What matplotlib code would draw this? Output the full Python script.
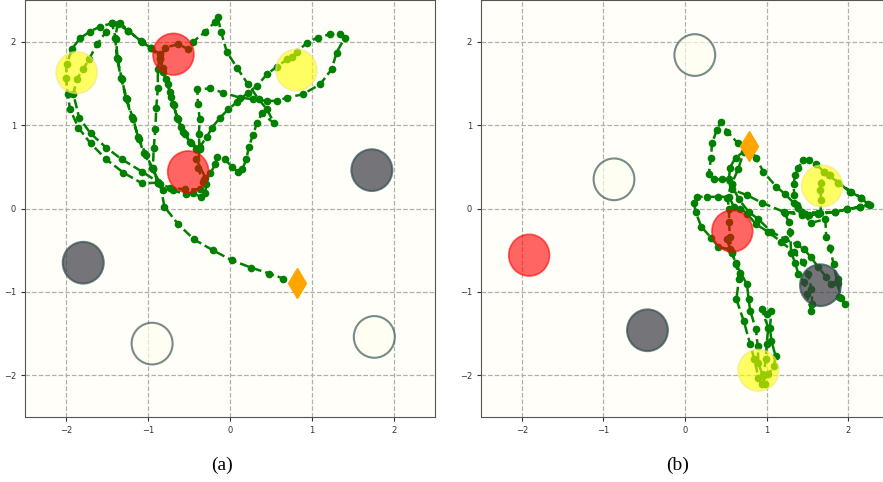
import matplotlib
matplotlib.use("Agg")
import matplotlib.pyplot as plt
from matplotlib.patches import Circle

# ---- panel (a) ----
obst_a = {
    "red": [(-0.69, 1.85), (-0.51, 0.44)],
    "yellow": [(-1.87, 1.63), (0.81, 1.66)],
    "gray": [(1.73, 0.46), (-1.79, -0.65)],
    "white": [(-0.95, -1.62), (1.76, -1.54)],
}
goal_a = (0.82, -0.89)

traj_ax = [-0.30, -0.41, -0.41, -0.48, -0.55, -0.60, -0.65, -0.68, -0.72, -0.76, -0.82, -0.85, -0.79,
           -0.63, -0.51, -0.45, -0.30, -0.18, -0.15,
           -0.11, -0.04, 0.09, 0.22, 0.35, 0.45, 0.54,
           0.39, 0.33, 0.28, 0.23, 0.20, 0.15, 0.10, 0.02, -0.06, -0.16, -0.18, -0.24, -0.33,
           -0.39, -0.37, -0.28, -0.22, -0.12, -0.02, 0.09, 0.22, 0.33, 0.45, 0.57, 0.70, 0.76, 0.82,
           0.94, 1.07, 1.22, 1.34, 1.40, 1.30, 1.24, 1.10, 0.89, 0.70, 0.57, 0.45, 0.28, 0.12, -0.09, -0.24,
           -0.40, -0.39, -0.37, -0.38, -0.37,
           -0.49, -0.57, -0.63, -0.70, -0.73, -0.78, -0.82, -0.85,
           -0.96, -1.07, -1.24, -1.34, -1.44, -1.59, -1.71, -1.83, -1.93, -1.99, -2.00, -1.98, -1.95, -1.85,
           -1.70, -1.51, -1.30, -1.07, -0.88,
           -0.82, -0.70, -0.54, -0.45, -0.35, -0.30, -0.29, -0.37, -0.55, -0.73, -0.88,
           -0.94, -0.93, -0.91, -0.90, -0.88, -0.88, -0.85,
           -0.96, -1.09, -1.24, -1.37, -1.40, -1.38, -1.33, -1.27, -1.20, -1.12, -1.05, -0.95, -0.88,
           -1.07, -1.32, -1.51, -1.70, -1.84, -1.91, -1.87, -1.79, -1.72, -1.62, -1.51, -1.44,
           -1.39, -1.37, -1.32, -1.26, -1.18, -1.11, -1.02, -0.94, -0.85,
           -0.80, -0.63, -0.44, -0.21, 0.02, 0.26, 0.48, 0.65]
traj_ay = [0.37, 0.59, 0.71, 0.79, 0.89, 0.98, 1.09, 1.24, 1.34, 1.49, 1.64, 1.79, 1.93,
           1.97, 1.91, 2.00, 2.12, 2.24, 2.30,
           2.12, 1.88, 1.68, 1.49, 1.31, 1.19, 1.02,
           1.14, 1.03, 0.88, 0.74, 0.59, 0.47, 0.44, 0.50, 0.59, 0.62, 0.53, 0.42, 0.32,
           0.49, 0.74, 0.86, 0.97, 1.09, 1.19, 1.28, 1.39, 1.47, 1.61, 1.70, 1.79, 1.82, 1.88,
           1.99, 2.05, 2.09, 2.09, 2.05, 1.87, 1.67, 1.49, 1.37, 1.33, 1.29, 1.29, 1.31, 1.33, 1.39, 1.44,
           1.43, 1.25, 1.07, 0.89, 0.71,
           0.80, 0.92, 1.07, 1.25, 1.40, 1.55, 1.69, 1.81,
           1.92, 2.00, 2.13, 2.23, 2.22, 2.18, 2.12, 2.04, 1.91, 1.73, 1.57, 1.37, 1.19, 0.97,
           0.78, 0.59, 0.43, 0.30, 0.31,
           0.22, 0.22, 0.17, 0.18, 0.14, 0.19, 0.29, 0.23, 0.23, 0.25, 0.30,
           0.49, 0.73, 0.95, 1.20, 1.44, 1.67, 1.85,
           1.92, 2.01, 2.13, 2.21, 2.05, 1.81, 1.57, 1.33, 1.10, 0.86, 0.66, 0.49, 0.32,
           0.44, 0.59, 0.73, 0.90, 1.09, 1.37, 1.55, 1.67, 1.79, 1.97, 2.12, 2.22,
           2.03, 1.79, 1.55, 1.31, 1.07, 0.83, 0.64, 0.47, 0.29,
           0.02, -0.19, -0.37, -0.50, -0.62, -0.71, -0.78, -0.84]

# ---- panel (b) ----
obst_b = {
    "red": [(0.58, -0.27), (-1.91, -0.56)],
    "yellow": [(1.68, 0.27), (0.90, -1.94)],
    "gray": [(1.66, -0.92), (-0.46, -1.46)],
    "white": [(0.12, 1.84), (-0.87, 0.35)],
}
goal_b = (0.78, 0.75)

traj_bx = [0.55, 0.41, 0.32, 0.20, 0.13, 0.11, 0.15,
           0.27, 0.41, 0.54, 0.60, 0.68, 0.76, 0.87, 1.02, 1.18, 1.33, 1.45, 1.51, 1.55, 1.56, 1.55,
           1.49, 1.46, 1.39, 1.35, 1.30, 1.29, 1.27, 1.22,
           1.43, 1.63, 1.84, 1.98, 2.15, 2.27,
           2.16, 2.04, 1.88, 1.78, 1.70, 1.61, 1.52, 1.45, 1.39, 1.35, 1.33, 1.34, 1.37,
           1.43, 1.55, 1.72, 1.73, 1.78, 1.82, 1.87, 1.91, 1.96,
           1.89, 1.88, 1.79, 1.73, 1.63, 1.54, 1.46, 1.37, 1.23, 1.06, 0.90, 0.78,
           0.66, 0.57, 0.45, 0.35,
           0.29, 0.32, 0.33, 0.39, 0.44,
           0.52, 0.65, 0.78, 0.87, 0.96, 1.12, 1.23, 1.33, 1.39,
           1.52, 1.66, 1.67, 1.66, 1.67, 1.70, 1.76, 1.88, 2.02, 2.16, 2.24,
           2.15, 1.98, 1.84, 1.63, 1.43, 1.21, 0.94, 0.76, 0.57, 0.54, 0.55, 0.62, 0.72,
           0.65, 0.57, 0.52, 0.54, 0.54, 0.55,
           0.57, 0.63, 0.66, 0.63, 0.72, 0.80, 0.85, 0.90, 0.94,
           0.96, 0.99, 1.00, 1.02, 0.94, 1.00, 1.06, 1.04, 1.06, 1.11, 1.09, 1.02, 0.98,
           0.95, 0.90, 0.89, 0.87, 0.80, 0.78, 0.76, 0.68, 0.62, 0.57, 0.51]
traj_by = [-0.49, -0.46, -0.35, -0.22, -0.04, 0.07, 0.14,
           0.14, 0.14, 0.14, 0.02, 0.00, -0.06, -0.19, -0.28, -0.40, -0.52, -0.64, -0.79, -0.97, -1.15, -1.23,
           -1.03, -0.88, -0.79, -0.65, -0.53, -0.28, -0.16, -0.05,
           -0.04, -0.05, -0.04, -0.01, 0.02, 0.04,
           0.13, 0.20, 0.31, 0.40, 0.44, 0.53, 0.58, 0.58, 0.49, 0.40, 0.29, 0.16, 0.04,
           -0.05, -0.17, -0.13, -0.34, -0.47, -0.67, -0.89, -1.07, -1.15,
           -1.06, -0.85, -0.91, -0.82, -0.70, -0.58, -0.49, -0.43, -0.37, -0.28, -0.13, -0.04,
           0.11, 0.29, 0.35, 0.35,
           0.41, 0.61, 0.78, 0.94, 1.04,
           0.92, 0.78, 0.74, 0.61, 0.44, 0.26, 0.17, 0.07, 0.01,
           -0.08, -0.05, 0.10, 0.22, 0.31, 0.44, 0.40, 0.31, 0.20, 0.13, 0.05,
           0.02, -0.01, -0.04, -0.07, -0.08, -0.04, 0.07, 0.16, 0.23, 0.35, 0.49, 0.61, 0.68,
           0.47, 0.29, 0.13, -0.01, -0.16, -0.34,
           -0.53, -0.67, -0.85, -1.09, -1.35, -1.63, -1.81, -2.03, -2.11,
           -2.01, -1.81, -1.63, -1.43, -1.21, -1.27, -1.23, -1.43, -1.59, -1.77, -1.89, -1.99, -2.11,
           -2.00, -1.85, -1.65, -1.45, -1.23, -1.09, -0.91, -0.77, -0.65, -0.52, -0.37]

ticks = [-2, -1, 0, 1, 2]
radius = 0.25

styles = {
    "red": dict(fc="red", ec="red", alpha=0.6, lw=1.2),
    "yellow": dict(fc="yellow", ec="khaki", alpha=0.6, lw=1.2),
    "gray": dict(fc="#3a3a44", ec="darkslategray", alpha=0.7, lw=1.5),
    "white": dict(fc="ivory", ec="darkslategray", alpha=0.65, lw=1.5),
}


def draw(ax, obst, goal, tx, ty):
    ax.set_facecolor("#fffef8")
    ax.plot(tx, ty, "--", color="green", lw=1.8, marker="o", ms=4.5, zorder=2)
    for kind, centers in obst.items():
        for c in centers:
            ax.add_patch(Circle(c, radius, zorder=3, **styles[kind]))
    ax.plot(goal[0], goal[1], "d", color="orange", ms=15, zorder=4)
    ax.set_xlim(-2.5, 2.5)
    ax.set_ylim(-2.5, 2.5)
    ax.set_xticks(ticks)
    ax.set_yticks(ticks)
    ax.tick_params(labelsize=6, length=3, colors="#333333")
    ax.grid(True, linestyle="--", color="#b0b0b0", lw=0.9)
    ax.set_axisbelow(True)
    for s in ax.spines.values():
        s.set_color("#555555")


fig = plt.figure(figsize=(8.83, 4.82), dpi=100)
ax1 = fig.add_axes([25 / 883, 65 / 482, 410 / 883, 417 / 482])
ax2 = fig.add_axes([481 / 883, 65 / 482, 408 / 883, 417 / 482])
draw(ax1, obst_a, goal_a, traj_ax, traj_ay)
draw(ax2, obst_b, goal_b, traj_bx, traj_by)

fig.text(222 / 883, 1 - 465 / 482, "(a)", ha="center", va="center",
         family="Liberation Serif", fontsize=14)
fig.text(678 / 883, 1 - 465 / 482, "(b)", ha="center", va="center",
         family="Liberation Serif", fontsize=14)

fig.savefig("out.png", dpi=100)
